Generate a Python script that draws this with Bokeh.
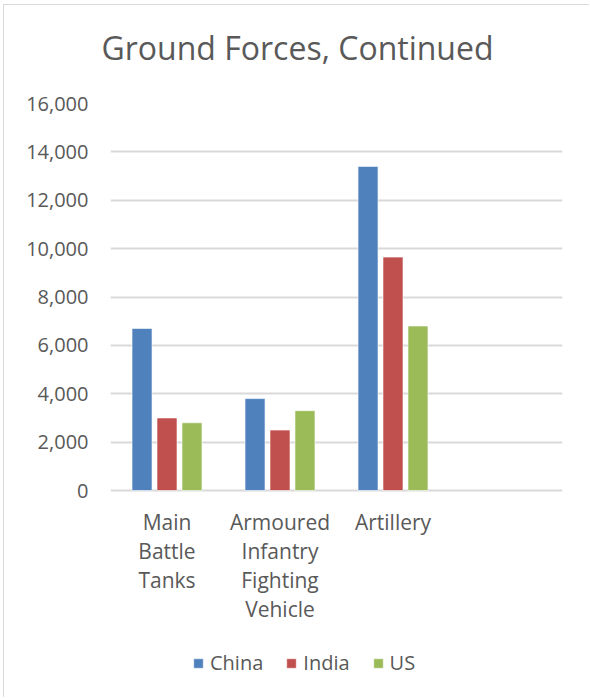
from bokeh.plotting import figure
from bokeh.models import (ColumnDataSource, FactorRange, NumeralTickFormatter, Legend, LegendItem,
                          Range1d, FixedTicker, Title)
from bokeh.core.properties import value
from bokeh.transform import dodge
from bokeh.embed import file_html
from bokeh.resources import INLINE

# ---- data ----
categories = ["Main Battle Tanks", "Armoured Infantry Fighting Vehicle", "Artillery"]
extra_factor = [" "]
tick_label_lines = [["Main", "Battle", "Tanks"],
                    ["Armoured", "Infantry", "Fighting", "Vehicle"],
                    ["Artillery"]]
series = ["China", "India", "US"]
china = [6700, 3800, 13400]
india = [3000, 2500, 9650]
us = [2800, 3300, 6800]
colors = ["#4F81BD", "#C0504D", "#9BBB59"]
y_ticks = [0, 2000, 4000, 6000, 8000, 10000, 12000, 14000, 16000]
title_text = "Ground Forces, Continued"

FONT = "Open Sans"
TXT = "#595959"
GRID = "#d9d9d9"

# ---- layout (pixels, page coordinates) ----
PAGE_W, PAGE_H = 590, 698
OFF_X, OFF_Y = 4, 5            # chart box starts after a thin border at x=3, y=4
W, H = PAGE_W - OFF_X, PAGE_H - OFF_Y
FRAME_LEFT, FRAME_RIGHT, FRAME_TOP, ZERO_PX = 110, 562, 103, 490
y_max = y_ticks[-1]
units_per_px = y_max / (ZERO_PX - FRAME_TOP)
y_min = -(PAGE_H - ZERO_PX) * units_per_px   # frame extends under the axis to host labels/legend

source = ColumnDataSource(dict(cat=categories, China=china, India=india, US=us))

p = figure(
    x_range=FactorRange(*(categories + extra_factor), range_padding=0),
    y_range=Range1d(y_min, y_max),
    width=W, height=H,
    min_border_left=FRAME_LEFT - OFF_X, min_border_right=PAGE_W - FRAME_RIGHT,
    min_border_top=FRAME_TOP - OFF_Y, min_border_bottom=0,
    output_backend="svg", toolbar_location=None,
    margin=(OFF_Y - 1, 0, 0, OFF_X - 1),
    styles={"border-left": "1px solid #d9d9d9", "border-top": "1px solid #d9d9d9"},
)
p.x_range.factor_padding = 0
p.x_range.group_padding = 0

# spacer between the frame and the title, then the title itself
spacer = Title(text=" ", text_font_size="1px", standoff=27)
title = Title(text=title_text, text_font=FONT, text_font_size="32px", text_font_style="normal",
              text_color=TXT, align="left", offset=-9, standoff=10)
p.add_layout(spacer, "above")
p.add_layout(title, "above")

width = 0.177
offsets = [-0.221, 0.0, 0.221]
renderers = []
for name, col, off in zip(series, colors, offsets):
    r = p.vbar(x=dodge("cat", off, range=p.x_range), top=name, width=width, source=source,
               fill_color=col, line_color="white", line_width=0.6)
    renderers.append(r)

# category labels, one text per line (wrapped like the original)
lx, lt, loff = [], [], []
for c, lines in zip(categories, tick_label_lines):
    for k, t in enumerate(lines):
        lx.append(c)
        lt.append(t)
        loff.append(31 + 29 * k)
p.text(x=lx, y=[0] * len(lx), text=lt, y_offset=loff,
       text_align="center", text_baseline="alphabetic",
       text_font=value(FONT), text_font_size="21px", text_color=TXT)

# y axis
p.yaxis.ticker = FixedTicker(ticks=y_ticks)
p.yaxis.formatter = NumeralTickFormatter(format="0,0")
p.yaxis.axis_line_color = None
p.yaxis.major_tick_line_color = None
p.yaxis.minor_tick_line_color = None
p.yaxis.major_tick_out = 0
p.yaxis.major_tick_in = 0
p.yaxis.major_label_standoff = 22
p.yaxis.major_label_text_font = FONT
p.yaxis.major_label_text_font_size = "20px"
p.yaxis.major_label_text_color = TXT

p.xaxis.visible = False
p.xgrid.grid_line_color = None
p.ygrid.ticker = FixedTicker(ticks=y_ticks)
p.ygrid.grid_line_color = GRID
p.ygrid.grid_line_width = 2
p.outline_line_color = None

legend = Legend(
    items=[LegendItem(label=s, renderers=[r]) for s, r in zip(series, renderers)],
    orientation="horizontal", location=(192 - FRAME_LEFT, 22),
    glyph_width=12, glyph_height=12, label_standoff=6, spacing=22,
    padding=0, margin=0, border_line_color=None, background_fill_alpha=0,
    label_text_font=FONT, label_text_font_size="20px", label_text_color=TXT,
)
p.add_layout(legend, "center")

open("out.html", "w").write(file_html(p, INLINE))
